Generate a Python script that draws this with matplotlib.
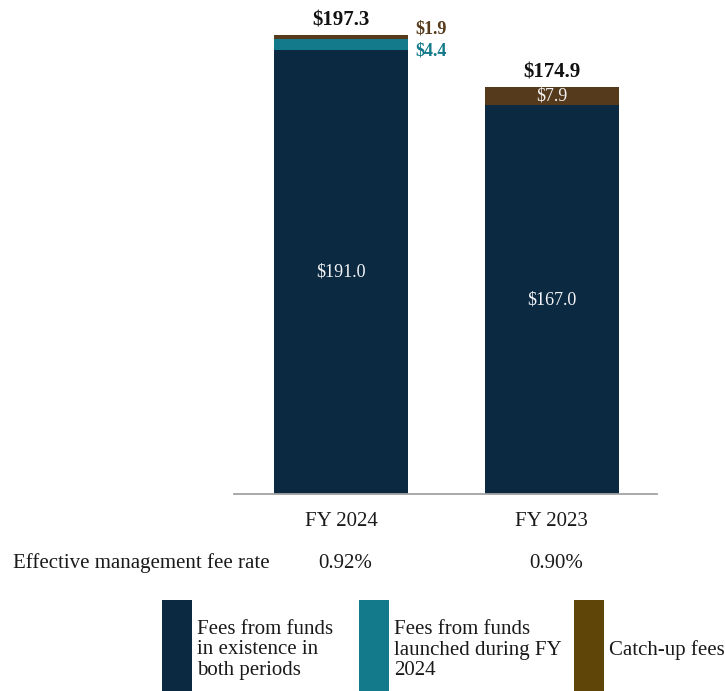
import matplotlib
matplotlib.use("Agg")
import matplotlib.pyplot as plt
from matplotlib.patches import Rectangle
from matplotlib.transforms import blended_transform_factory

plt.rcParams["font.family"] = ["Liberation Serif", "DejaVu Serif"]

# Management fees ($ millions) by component
periods = ["FY 2024", "FY 2023"]
existing_funds = [191.0, 167.0]
new_funds = [4.4, 0.0]
catch_up = [1.9, 7.9]
totals = [197.3, 174.9]
fee_rates = ["0.92%", "0.90%"]

series_labels = [
    "Fees from funds\nin existence in\nboth periods",
    "Fees from funds\nlaunched during FY\n2024",
    "Catch-up fees",
]
bar_colors = ["#0b2a42", "#127a8a", "#553a1c"]
legend_colors = ["#0b2a42", "#127a8a", "#5f4507"]

W, H = 725, 691
fig = plt.figure(figsize=(W / 100, H / 100), dpi=100)
ax = fig.add_axes([234 / W, (H - 494) / H, 423 / W, 484 / H])

x = [0, 1]
width = 0.635
layers = [existing_funds, new_funds, catch_up]
bottoms = [0.0, 0.0]
containers = []
for vals, col in zip(layers, bar_colors):
    bc = ax.bar(x, vals, width, bottom=bottoms, color=col, linewidth=0)
    containers.append((bc, vals, list(bottoms)))
    bottoms = [b + v for b, v in zip(bottoms, vals)]

ax.set_xlim(-0.507, 1.498)
ax.set_ylim(0, 208)

# Segment labels: inside the bar when the segment is tall enough,
# otherwise beside the bar in the segment's colour
small_offsets = {(1, 0): -5, (2, 0): 6}
for li, (bc, vals, bots) in enumerate(containers):
    for i, (v, b) in enumerate(zip(vals, bots)):
        if v <= 0:
            continue
        mid = b + v / 2
        if v >= 6:
            ax.text(x[i], mid, f"${v:.1f}", ha="center", va="center",
                    color="#f4f4f6", fontsize=13)
        else:
            ax.annotate(f"${v:.1f}", xy=(x[i] + width / 2, mid),
                        xytext=(5, small_offsets.get((li, i), 0)),
                        textcoords="offset points", ha="left", va="center",
                        color=bar_colors[li], fontsize=13, fontweight="bold")

# Totals above each bar
for xi, t in zip(x, totals):
    ax.annotate(f"${t:.1f}", xy=(xi, t), xytext=(0, 3),
                textcoords="offset points", ha="center", va="bottom",
                fontsize=15, fontweight="bold", color="#111111")

for s in ["top", "right", "left"]:
    ax.spines[s].set_visible(False)
ax.spines["bottom"].set_color("#a3a3a3")
ax.spines["bottom"].set_linewidth(1.3)
ax.set_yticks([])
ax.set_xticks(x)
ax.set_xticklabels(periods, fontsize=15, color="#1a1a1a")
ax.tick_params(axis="x", length=0, pad=13)

# Effective management fee rate row
row_y = (H - 563) / H
fig.text(13 / W, row_y, "Effective management fee rate", fontsize=15,
         ha="left", va="center", color="#1a1a1a")
trans = blended_transform_factory(ax.transData, fig.transFigure)
for xi, r in zip(x, fee_rates):
    ax.text(xi + 0.02, row_y, r, transform=trans, ha="center", va="center",
            fontsize=15, color="#1a1a1a", clip_on=False)

# Legend
patch_x = [162, 359, 574]
patch_w = 30
top_px = 600
for px, col, lab in zip(patch_x, legend_colors, series_labels):
    fig.add_artist(Rectangle((px / W, -0.02), patch_w / W,
                             (H - top_px) / H + 0.02,
                             transform=fig.transFigure, color=col, lw=0))
    fig.text((px + patch_w + 5) / W, (H - 650) / H, lab, fontsize=15,
             ha="left", va="center", linespacing=1.08, color="#1a1a1a")

fig.savefig("out.png", dpi=100)
